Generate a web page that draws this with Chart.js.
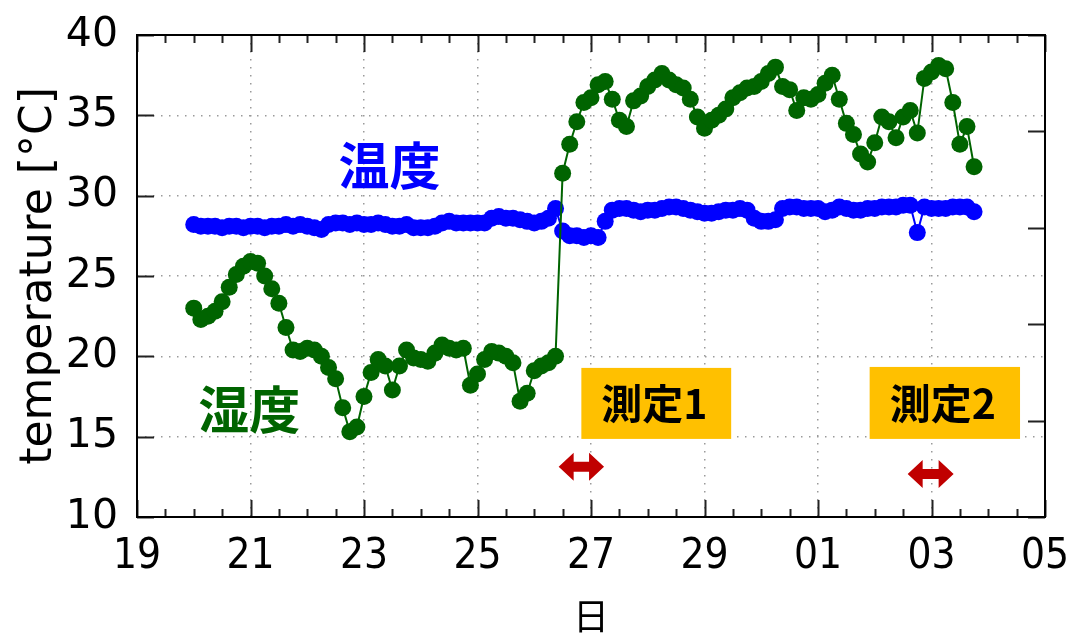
<!DOCTYPE html>
<html>
<head>
<meta charset="utf-8">
<script src="https://cdn.jsdelivr.net/npm/chart.js@4/dist/chart.umd.min.js"></script>
<style>
  html, body { margin: 0; padding: 0; background: #fff; }
  canvas { display: block; }
</style>
</head>
<body>
<canvas id="myChart" width="1068" height="635"></canvas>
<script>
// sampling: every 3 hours starting day 20 00:00 (days after the 30th are 31, 32 ...)
const startDay = 20;
const stepDays = 0.125;

// blue series (温度)
const blueTemp = [
  28.2, 28.1, 28.1, 28.1, 28.0, 28.1, 28.1, 28.0, 28.1, 28.1,
  28.0, 28.1, 28.1, 28.2, 28.1, 28.2, 28.1, 28.0, 27.9, 28.2,
  28.3, 28.3, 28.2, 28.3, 28.2, 28.2, 28.3, 28.2, 28.1, 28.1,
  28.2, 28.0, 28.0, 28.0, 28.1, 28.3, 28.4, 28.3, 28.3, 28.3,
  28.3, 28.3, 28.6, 28.7, 28.6, 28.6, 28.5, 28.4, 28.3, 28.4,
  28.6, 29.2, 27.8, 27.5, 27.5, 27.4, 27.5, 27.4, 28.4, 29.1,
  29.2, 29.2, 29.1, 29.0, 29.1, 29.1, 29.2, 29.3, 29.3, 29.2,
  29.1, 29.0, 28.9, 28.9, 29.0, 29.1, 29.1, 29.2, 29.1, 28.6,
  28.4, 28.4, 28.5, 29.2, 29.3, 29.3, 29.2, 29.2, 29.2, 29.0,
  29.1, 29.3, 29.2, 29.1, 29.1, 29.2, 29.2, 29.3, 29.3, 29.3,
  29.4, 29.4, 27.7, 29.3, 29.2, 29.2, 29.2, 29.3, 29.3, 29.3,
  29.0
];

// green series (湿度)
const greenTemp = [
  23.0, 22.3, 22.5, 22.8, 23.4, 24.3, 25.1, 25.6, 25.9, 25.8,
  25.0, 24.2, 23.3, 21.8, 20.4, 20.3, 20.5, 20.4, 20.0, 19.3,
  18.6, 16.8, 15.3, 15.6, 17.5, 19.0, 19.8, 19.4, 17.9, 19.4,
  20.4, 19.9, 19.8, 19.7, 20.2, 20.7, 20.5, 20.4, 20.5, 18.2,
  18.9, 19.8, 20.3, 20.2, 20.0, 19.6, 17.2, 17.7, 19.1, 19.4,
  19.6, 20.0, 31.4, 33.2, 34.6, 35.8, 36.1, 36.9, 37.1, 36.0,
  34.7, 34.3, 35.9, 36.2, 36.8, 37.2, 37.6, 37.2, 36.9, 36.7,
  36.0, 34.9, 34.2, 34.7, 35.0, 35.4, 36.1, 36.4, 36.7, 36.8,
  37.1, 37.6, 38.0, 36.8, 36.6, 35.3, 36.1, 36.0, 36.3, 37.0,
  37.5, 36.0, 34.5, 33.8, 32.6, 32.1, 33.3, 34.9, 34.6, 33.6,
  34.9, 35.3, 33.9, 37.3, 37.7, 38.1, 37.9, 35.8, 33.2, 34.3,
  31.8
];

const dayLabels = ['19', '21', '23', '25', '27', '29', '01', '03', '05'];

const times = blueTemp.map((_, i) => startDay + i * stepDays);

// text boxes, arrows and series labels (data coordinates)
const notes = [
  { text: '温度', x: 23.45, y: 31.9, color: '#0000ff' },
  { text: '湿度', x: 20.98, y: 16.7, color: '#006400' }
];
const boxes = [
  { text: '測定1', x0: 26.83, x1: 29.47, y0: 14.86, y1: 19.28 },
  { text: '測定2', x0: 31.91, x1: 34.56, y0: 14.86, y1: 19.34 }
];
const arrows = [
  { x0: 26.43, x1: 27.23, y: 13.12 },
  { x0: 32.58, x1: 33.39, y: 12.68 }
];

const frameTicks = {
  id: 'frameTicks',
  afterDatasetsDraw(chart) {
    const { ctx, chartArea: a, scales } = chart;
    const x = scales.x, y = scales.y, y2 = scales.y2;
    ctx.save();

    // boxes
    boxes.forEach((b) => {
      const l = x.getPixelForValue(b.x0), r = x.getPixelForValue(b.x1);
      const t = y.getPixelForValue(b.y1), bt = y.getPixelForValue(b.y0);
      ctx.fillStyle = '#ffc000';
      ctx.fillRect(l, t, r - l, bt - t);
      ctx.fillStyle = '#000';
      ctx.font = 'bold 41px "Noto Sans CJK JP"';
      ctx.textAlign = 'center';
      ctx.textBaseline = 'middle';
      ctx.fillText(b.text, (l + r) / 2 - 2, (t + bt) / 2);
    });

    // arrows
    ctx.fillStyle = '#c00000';
    arrows.forEach((ar) => {
      const x0 = x.getPixelForValue(ar.x0), x1 = x.getPixelForValue(ar.x1);
      const cy = y.getPixelForValue(ar.y);
      const h = 15, H = 14, s = 5;
      ctx.beginPath();
      ctx.moveTo(x0, cy);
      ctx.lineTo(x0 + h, cy - H);
      ctx.lineTo(x0 + h, cy - s);
      ctx.lineTo(x1 - h, cy - s);
      ctx.lineTo(x1 - h, cy - H);
      ctx.lineTo(x1, cy);
      ctx.lineTo(x1 - h, cy + H);
      ctx.lineTo(x1 - h, cy + s);
      ctx.lineTo(x0 + h, cy + s);
      ctx.lineTo(x0 + h, cy + H);
      ctx.closePath();
      ctx.fill();
    });

    // series labels
    notes.forEach((n) => {
      ctx.fillStyle = n.color;
      ctx.font = 'bold 51px "Noto Sans CJK JP"';
      ctx.textAlign = 'center';
      ctx.textBaseline = 'middle';
      ctx.fillText(n.text, x.getPixelForValue(n.x), y.getPixelForValue(n.y));
    });

    // inward ticks
    ctx.strokeStyle = '#222';
    ctx.lineWidth = 2;
    ctx.beginPath();
    for (let v = x.min; v <= x.max + 1e-9; v += 0.5) {
      const px = Math.round(x.getPixelForValue(v)) + 0.5;
      const len = (v - x.min) % 2 === 0 ? 17 : 8;
      ctx.moveTo(px, a.bottom); ctx.lineTo(px, a.bottom - len);
      ctx.moveTo(px, a.top); ctx.lineTo(px, a.top + len);
    }
    y.ticks.forEach((t) => {
      const py = Math.round(y.getPixelForValue(t.value)) + 0.5;
      ctx.moveTo(a.left, py); ctx.lineTo(a.left + 17, py);
    });
    y2.ticks.forEach((t) => {
      const py = Math.round(y2.getPixelForValue(t.value)) + 0.5;
      ctx.moveTo(a.right, py); ctx.lineTo(a.right - 17, py);
    });
    ctx.stroke();

    // frame
    ctx.strokeStyle = '#000';
    ctx.lineWidth = 2;
    ctx.strokeRect(a.left, a.top, a.right - a.left, a.bottom - a.top);
    ctx.restore();
  }
};

const ctx = document.getElementById('myChart').getContext('2d');
new Chart(ctx, {
  type: 'line',
  data: {
    datasets: [
      {
        label: '湿度',
        data: times.map((t, i) => ({ x: t, y: greenTemp[i] })),
        borderColor: '#006400',
        backgroundColor: '#006400',
        borderWidth: 2,
        pointRadius: 8.5,
        pointBorderWidth: 0,
        order: 0
      },
      {
        label: '温度',
        data: times.map((t, i) => ({ x: t, y: blueTemp[i] })),
        borderColor: '#0000ff',
        backgroundColor: '#0000ff',
        borderWidth: 2,
        pointRadius: 8.5,
        pointBorderWidth: 0,
        order: 1
      }
    ]
  },
  options: {
    responsive: false,
    animation: false,
    layout: { padding: { top: 35, left: 0, right: 0, bottom: 0 } },
    plugins: { legend: { display: false }, tooltip: { enabled: false } },
    scales: {
      x: {
        type: 'linear',
        min: 19,
        max: 35,
        afterFit: (s) => { s.height = 118; s.paddingLeft = 0; s.paddingRight = 0; },
        ticks: {
          stepSize: 2,
          padding: 15,
          color: '#000',
          font: { family: '"DejaVu Sans Condensed", "DejaVu Sans"', size: 42 },
          maxRotation: 0,
          callback: (v) => dayLabels[(v - 19) / 2]
        },
        grid: { color: '#9a9a9a', lineWidth: 1.5, drawTicks: false },
        border: { display: false, dash: [1.5, 6.5] },
        title: {
          display: true,
          text: '日',
          color: '#000',
          font: { family: '"Noto Sans CJK JP"', size: 36, lineHeight: 1 },
          padding: { top: 0, bottom: 1 }
        }
      },
      y: {
        min: 10,
        max: 40,
        afterFit: (s) => { s.width = 137; s.paddingTop = 0; s.paddingBottom = 0; },
        ticks: {
          stepSize: 5,
          padding: 19,
          color: '#000',
          font: { family: 'DejaVu Sans', size: 41 }
        },
        grid: { color: '#9a9a9a', lineWidth: 1.5, drawTicks: false },
        border: { display: false, dash: [1.5, 6.5] },
        title: {
          display: true,
          text: 'temperature [°C]',
          color: '#000',
          font: { family: 'DejaVu Sans', size: 44, lineHeight: 1 },
          padding: { top: 18, bottom: 0 }
        }
      },
      y2: {
        position: 'right',
        min: 0,
        max: 100,
        afterFit: (s) => { s.width = 23; s.paddingTop = 0; s.paddingBottom = 0; },
        ticks: { stepSize: 20, display: false },
        grid: { display: false, drawTicks: false },
        border: { display: false }
      }
    }
  },
  plugins: [frameTicks]
});
</script>
</body>
</html>
